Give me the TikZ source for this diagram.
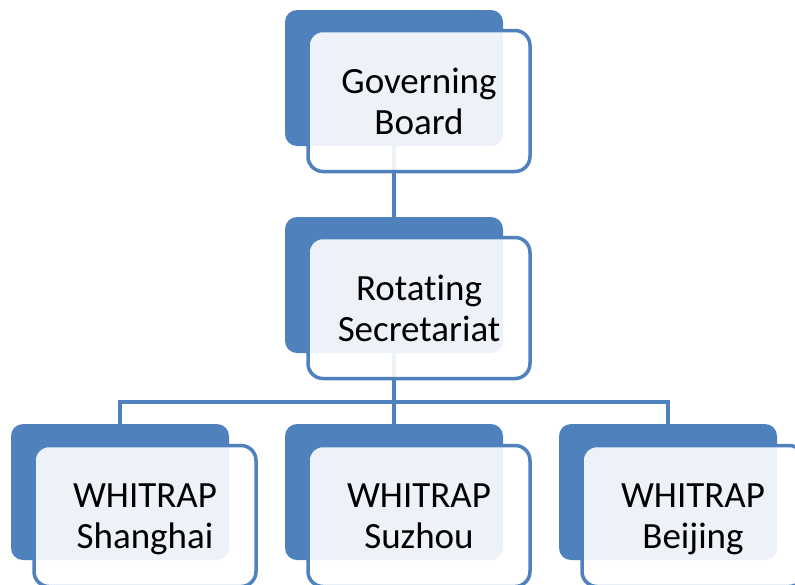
\documentclass[tikz,border=0pt]{standalone}
\usepackage{fontspec}
\setmainfont{Carlito}[Ligatures=NoCommon]
\usetikzlibrary{positioning}
\definecolor{wblue}{RGB}{79,129,189}
\tikzset{
back/.style={fill=wblue, rounded corners=12pt, minimum width=218pt, minimum height=136pt, inner sep=0pt, outer sep=0pt},
front/.style={draw=wblue, line width=3.5pt, fill=white, fill opacity=0.9, text opacity=1, rounded corners=15pt,
    minimum width=222pt, minimum height=141pt, text depth=0pt, align=center, font=\fontsize{37}{41}\selectfont},
conn/.style={draw=wblue, line width=4pt}
}

\begin{document}
\begin{tikzpicture}[x=1pt,y=-1pt]
\useasboundingbox (0,0) rectangle (795,584);

\node[back] (gb) at (394,78) {};
\node[back] (rs) at (394,285) {};
\node[back] (sh) at (120,492) {};
\node[back] (sz) at (394,492) {};
\node[back] (bj) at (668,492) {};

\draw[conn] (gb) -- (rs);
\draw[conn] (rs.south) -- ++(0,49) coordinate (bus);
\draw[conn] (sh.north) |- (bus) -| (bj.north);
\draw[conn] (bus) -- (sz.north);

\node[front] (gbf) at ([shift={(25,23)}]gb.center) {Governing\\Board};
\node[front] (rsf) at ([shift={(25,23)}]rs.center) {Rotating\\Secretariat};
\node[front] (shf) at ([shift={(25,24)}]sh.center) {WHITRAP\\Shanghai};
\node[front] (szf) at ([shift={(25,24)}]sz.center) {WHITRAP\\Suzhou};
\node[front] (bjf) at ([shift={(25,24)}]bj.center) {WHITRAP\\Beijing};
\end{tikzpicture}
\end{document}
